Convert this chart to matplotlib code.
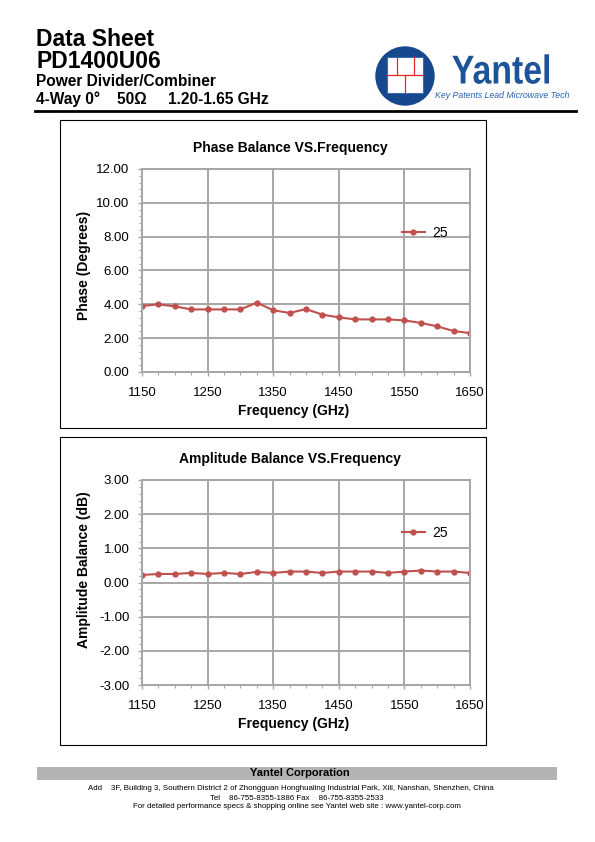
import matplotlib.pyplot as plt
import matplotlib.patches as patches
from matplotlib.patheffects import AbstractPathEffect
from matplotlib.transforms import Affine2D
from matplotlib.ticker import MultipleLocator, FormatStrFormatter

plt.rcParams['font.family'] = ['Liberation Sans', 'DejaVu Sans']

# Data
freq = [1150, 1175, 1200, 1225, 1250, 1275, 1300, 1325, 1350, 1375, 1400,
        1425, 1450, 1475, 1500, 1525, 1550, 1575, 1600, 1625, 1650]
phase_25 = [3.90, 4.00, 3.88, 3.70, 3.70, 3.70, 3.70, 4.10, 3.65, 3.49, 3.72,
            3.39, 3.23, 3.11, 3.11, 3.11, 3.05, 2.90, 2.70, 2.42, 2.30]
amp_25 = [0.22, 0.25, 0.25, 0.28, 0.25, 0.28, 0.25, 0.31, 0.28, 0.32, 0.32,
          0.28, 0.32, 0.32, 0.32, 0.28, 0.32, 0.35, 0.32, 0.32, 0.28]
x_ticks = [1150, 1250, 1350, 1450, 1550, 1650]

W, H = 595, 842
LINE = '#c0504d'
GRID = '#a6a6a6'
BLUE = '#17478c'


class Squeeze(AbstractPathEffect):
    # narrows text horizontally about a pixel x position (logo lettering)
    def __init__(self, sx, cx):
        super().__init__()
        self.sx = sx
        self.cx = cx

    def draw_path(self, renderer, gc, tpath, affine, rgbFace=None):
        t = affine + Affine2D().translate(-self.cx, 0).scale(self.sx, 1).translate(self.cx, 0)
        renderer.draw_path(gc, tpath, t, rgbFace)


fig = plt.figure(figsize=(W / 100, H / 100), dpi=100)

# overlay in pixel coords for page decoration
bg = fig.add_axes([0, 0, 1, 1], zorder=0)
bg.set_xlim(0, W)
bg.set_ylim(H, 0)
bg.axis('off')

# header text
bg.text(36, 45.5, 'Data Sheet', fontsize=16.5, weight='bold', va='baseline')
bg.text(36, 68, 'PD1400U06', fontsize=16.5, weight='bold', va='baseline')
bg.text(36, 86, 'Power Divider/Combiner', fontsize=11.2, weight='bold', va='baseline')
bg.text(36, 104, '4-Way 0°    50Ω     1.20-1.65 GHz', fontsize=11.2, weight='bold', va='baseline')
bg.plot([35, 576], [110.5, 110.5], color='black', lw=2)

# logo
bg.add_patch(patches.Circle((405, 76), 29, color=BLUE))
bg.add_patch(patches.Rectangle((387, 57), 36, 36, facecolor='white', edgecolor='#3b6db5', lw=0.8))
for xs, ys in [([387, 423], [75, 75]), ([397, 397], [57, 75]), ([414, 414], [57, 75]),
               ([405, 405], [75, 93])]:
    bg.plot(xs, ys, color='#e8282b', lw=0.9)
bg.text(501.5, 83.5, 'Yantel', fontsize=29, weight='bold', color='#1d5499', ha='center', va='baseline',
        path_effects=[Squeeze(0.84, 501.5)])
bg.text(502, 95.5, 'Key Patents Lead Microwave Tech', fontsize=6.3, style='italic', color='#2a62b0',
        ha='center', va='center')

# panel boxes
for top in (120, 437):
    bg.add_patch(patches.Rectangle((60, top), 426, 308, facecolor='none', edgecolor='black', lw=0.8))

# footer
bg.add_patch(patches.Rectangle((37, 767), 520, 13, facecolor='#b3b3b3', edgecolor='none'))
bg.text(300, 773.5, 'Yantel Corporation', fontsize=8, weight='bold', ha='center', va='center')
bg.text(291, 788, 'Add    3F, Building 3, Southern District 2 of Zhongguan Honghualing Industrial Park, Xili, Nanshan, Shenzhen, China',
        fontsize=5.7, ha='center', va='center')
bg.text(297, 798, 'Tel    86-755-8355-1886 Fax    86-755-8355-2533', fontsize=5.7, ha='center', va='center')
bg.text(297, 807, 'For detailed performance specs & shopping online see Yantel web site : www.yantel-corp.com',
        fontsize=5.7, ha='center', va='center')


def make_chart(top, bottom, y, ylim, ystep, title, ylabel, ylabel_y, leg_y):
    h = bottom - top
    ax = fig.add_axes([142 / W, 1 - bottom / H, (470 - 142) / W, h / H], zorder=1)
    ax.plot(freq, y, color=LINE, lw=1.5, marker='o', ms=3.5, label='25')
    ax.set_xlim(1150, 1650)
    ax.set_ylim(*ylim)
    ax.set_xticks(x_ticks)
    ax.xaxis.set_minor_locator(MultipleLocator(25))
    ax.yaxis.set_major_locator(MultipleLocator(ystep))
    ax.yaxis.set_minor_locator(MultipleLocator(ystep / 5))
    ax.yaxis.set_major_formatter(FormatStrFormatter('%.2f'))
    ax.grid(True, which='major', color=GRID, lw=1.4)
    ax.set_axisbelow(True)
    for s in ax.spines.values():
        s.set_color(GRID)
        s.set_linewidth(1.4)
    ax.tick_params(which='both', direction='out', color=GRID, labelsize=9.5)
    ax.tick_params(which='major', length=3, width=1)
    ax.tick_params(which='minor', length=2.5, width=0.8)
    ax.tick_params(axis='x', which='major', pad=8)
    ax.tick_params(axis='y', which='major', pad=6)

    bg.text(290, top - 21, title, fontsize=10, weight='bold', ha='center', va='center')
    ax.set_xlabel('Frequency (GHz)', fontsize=10, weight='bold')
    ax.xaxis.set_label_coords((294 - 142) / 328, -(404 - 372) / h)
    ax.set_ylabel(ylabel, fontsize=10, weight='bold')
    ax.yaxis.set_label_coords((91 - 142) / 328, (bottom - ylabel_y) / h)
    ax.legend(loc='center left', bbox_to_anchor=(395 / W, 1 - leg_y / H), bbox_transform=fig.transFigure,
              frameon=False, fontsize=10, handlelength=1.65, handletextpad=0.5, borderpad=0)
    return ax


make_chart(169, 372, phase_25, (0, 12), 2, 'Phase Balance VS.Frequency', 'Phase (Degrees)', 265, 233)
make_chart(480, 685, amp_25, (-3, 3), 1, 'Amplitude Balance VS.Frequency', 'Amplitude Balance (dB)', 570, 533)

fig.savefig('out.png', dpi=100)
